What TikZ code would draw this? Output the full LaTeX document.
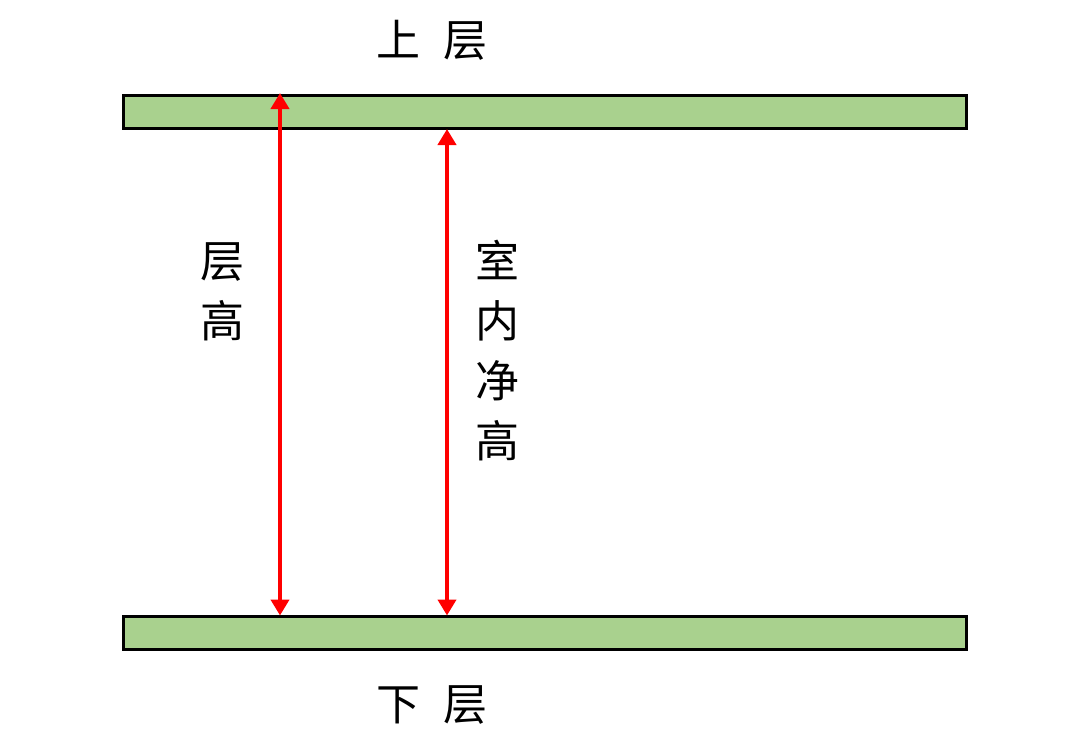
\documentclass[tikz,border=0pt]{standalone}
\usepackage{fontspec}
\newfontfamily\cjk{Noto Sans CJK SC}
\usetikzlibrary{arrows.meta}
\definecolor{slabgreen}{HTML}{A9D18E}
\definecolor{dimred}{HTML}{FF0000}
\tikzset{
  slab/.style={draw=black, line width=3pt, fill=slabgreen, minimum width=843pt, minimum height=33pt, inner sep=0pt},
  dimline/.style={draw=dimred, line width=4.5pt, {Triangle[width=18pt,length=16pt]}-{Triangle[width=18pt,length=16pt]}, shorten <=-1pt, shorten >=-1pt},
  label/.style={font={\cjk\fontsize{44}{60}\selectfont}, align=center, inner sep=0pt}
}
\begin{document}
\begin{tikzpicture}[x=1pt, y=-1pt]
    \useasboundingbox (0,0) rectangle (1080,748);
    % floors
    \node[slab] (upper) at (544.5,112) {};
    \node[slab] (lower) at (544.5,632.5) {};
    \coordinate (floorh) at (280,0);
    \coordinate (clearh) at (447,0);
    % dimensions
    \draw[dimline] (upper.north -| floorh) -- (lower.north -| floorh);
    \draw[dimline] (upper.south -| clearh) -- (lower.north -| clearh);
    % texts
    \node[label] (uptext) at (432,40) {上\hspace{23pt}层};
    \node[label] (downtext) at (432,705) {下\hspace{23pt}层};
    \node[label] (floortext) at (222,292) {层\\高};
    \node[label] (cleartext) at (497,351) {室\\内\\净\\高};
\end{tikzpicture}
\end{document}
